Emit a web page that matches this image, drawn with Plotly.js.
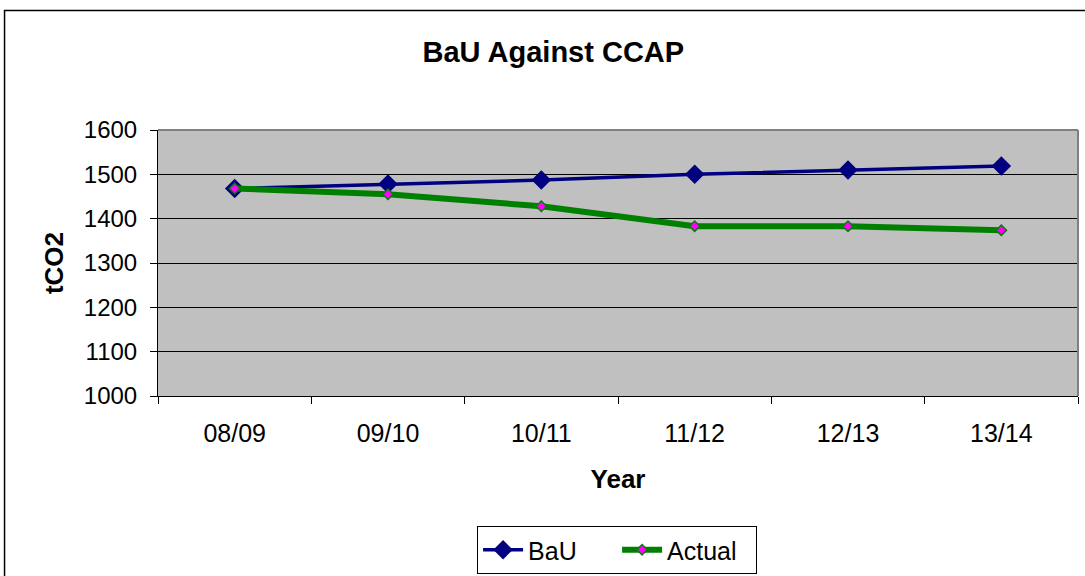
<!DOCTYPE html>
<html>
<head>
<meta charset="utf-8">
<script src="https://cdn.plot.ly/plotly-3.0.1.min.js"></script>
<style>html,body{margin:0;padding:0;background:#fff;}#chart{width:1085px;height:576px;}</style>
</head>
<body>
<div id="chart"></div>
<script>
const years = ["08/09", "09/10", "10/11", "11/12", "12/13", "13/14"];
const bau = [1468, 1478, 1487, 1500, 1510, 1519];
const actual = [1468, 1455, 1428, 1383, 1383, 1374];

const FONT = "Liberation Sans, Arial, sans-serif";

const traces = [
  {
    x: years, y: bau, name: "BaU", type: "scatter", mode: "lines+markers",
    line: {color: "#000080", width: 3.5},
    marker: {symbol: "diamond", size: 15, color: "#000080"}
  },
  {
    x: years, y: actual, name: "Actual", type: "scatter", mode: "lines+markers",
    line: {color: "#008000", width: 6},
    marker: {symbol: "diamond", size: 8, color: "#FF00FF", line: {color: "#008000", width: 1.5}}
  }
];

const layout = {
  width: 1085, height: 576,
  margin: {l: 158, r: 7, t: 130, b: 180},
  paper_bgcolor: "#ffffff",
  plot_bgcolor: "#c0c0c0",
  font: {family: FONT, color: "#000", size: 24},
  title: {text: "<b>BaU Against CCAP</b>", font: {family: FONT, size: 29, color: "#000"},
          x: 0.51, xanchor: "center", y: 1 - 52/576, yanchor: "middle", yref: "container"},
  xaxis: {
    type: "category", range: [-0.5, 5.5],
    title: {text: "<b>Year</b>", font: {family: FONT, size: 26}, standoff: 23},
    showgrid: false, zeroline: false,
    showline: true, linecolor: "#000", linewidth: 1,
    ticks: "outside", ticklen: 7, tickcolor: "#000", tickson: "boundaries",
    ticklabelstandoff: 15,
    tickfont: {family: FONT, size: 25},
    automargin: false
  },
  yaxis: {
    range: [1000, 1600], dtick: 100, tick0: 1000,
    title: {text: "<b>tCO2</b>", font: {family: FONT, size: 26}, standoff: 12},
    showgrid: true, gridcolor: "#000", gridwidth: 1,
    zeroline: false,
    showline: true, linecolor: "#000", linewidth: 1,
    ticks: "outside", ticklen: 7, tickcolor: "#000",
    ticklabelstandoff: 8,
    tickfont: {family: FONT, size: 24},
    automargin: false
  },
  showlegend: true,
  legend: {
    orientation: "h", x: 0.499, xanchor: "center",
    yref: "container", y: 1 - 526/576, yanchor: "top",
    bordercolor: "#000", borderwidth: 1, bgcolor: "#fff",
    font: {family: FONT, size: 25}, itemwidth: 40, tracegroupgap: 0,
    entrywidth: 84
  },
  shapes: [
    {type: "line", xref: "paper", yref: "paper", x0: 0, x1: 1, y0: 1, y1: 1,
     line: {color: "#808080", width: 2}, layer: "above"},
    {type: "line", xref: "paper", yref: "paper", x0: 1, x1: 1, y0: 0, y1: 1,
     line: {color: "#808080", width: 2}, layer: "above"},
    {type: "rect", xref: "paper", yref: "paper", x0: -0.1668, x1: 1.03, y0: -0.8, y1: 1.449,
     line: {color: "#000", width: 1.5}, fillcolor: "rgba(0,0,0,0)", layer: "below"}
  ]
};

Plotly.newPlot("chart", traces, layout, {displayModeBar: false, staticPlot: true});
</script>
</body>
</html>
